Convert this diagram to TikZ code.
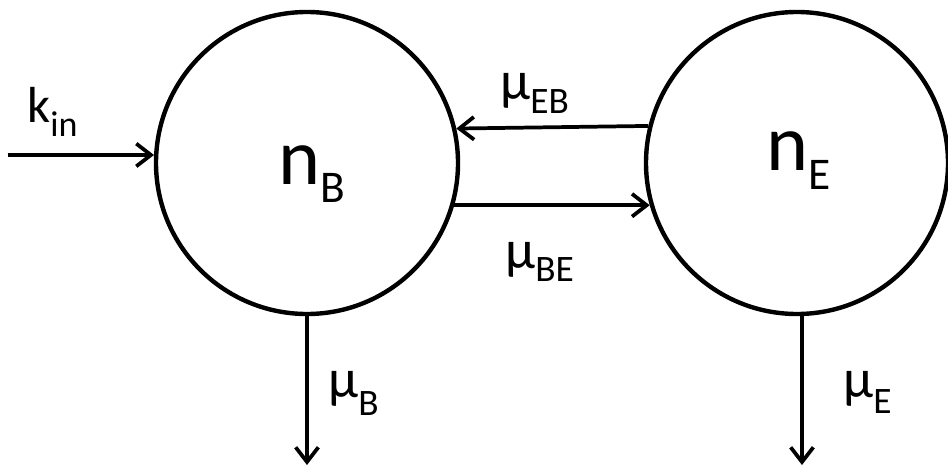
\documentclass[tikz,border=0pt]{standalone}
\usepackage{fontspec}
\setmainfont{Carlito}
\usetikzlibrary{arrows.meta}
\newcommand{\symsub}[5]{{\fontsize{#1}{#1}\selectfont #2}\raisebox{-#5}{\fontsize{#3}{#3}\selectfont #4}}
\tikzset{
  pool/.style={circle,draw,line width=3.3pt,minimum size=226.5pt,inner sep=0pt},
  flow arrow/.style={-{Straight Barb[length=11pt,width=17pt,line width=2.8pt]},line width=2.8pt},
  rate label/.style={anchor=base west,inner sep=0pt}
}
\begin{document}
\begin{tikzpicture}[x=0.75pt,y=-0.75pt]
  \useasboundingbox (0,0) rectangle (948,470);
  % compartments
  \node[pool] (B) at (307,163) {};
  \node[pool] (E) at (797,163) {};
  \node[rate label] (nB) at (278,185) {\symsub{60pt}{n}{34pt}{B}{13pt}};
  \node[rate label] (nE) at (766,171) {\symsub{60pt}{n}{34pt}{E}{14pt}};
  % fluxes
  \coordinate (src) at (8,155);
  \coordinate (sinkB) at (307,465);
  \coordinate (sinkE) at (802,465);
  \draw[flow arrow] (src) -- (B.177);
  \draw[flow arrow] (E.166.2) -- (B.13.8);
  \draw[flow arrow] (B.-16.9) -- (E.196.9);
  \draw[flow arrow] (B.south) -- (sinkB);
  \draw[flow arrow] (E.south -| sinkE) -- (sinkE);
  % rate labels
  \node[rate label] (kin) at (27,123) {\symsub{38pt}{k}{27pt}{in}{10pt}};
  \node[rate label] (muEB) at (500,100) {\symsub{41pt}{μ}{28pt}{EB}{10pt}};
  \node[rate label] (muBE) at (505,268) {\symsub{41pt}{μ}{28pt}{BE}{10pt}};
  \node[rate label] (muB) at (328,397) {\symsub{41pt}{μ}{28pt}{B}{14pt}};
  \node[rate label] (muE) at (843,397) {\symsub{41pt}{μ}{28pt}{E}{12pt}};
\end{tikzpicture}
\end{document}
